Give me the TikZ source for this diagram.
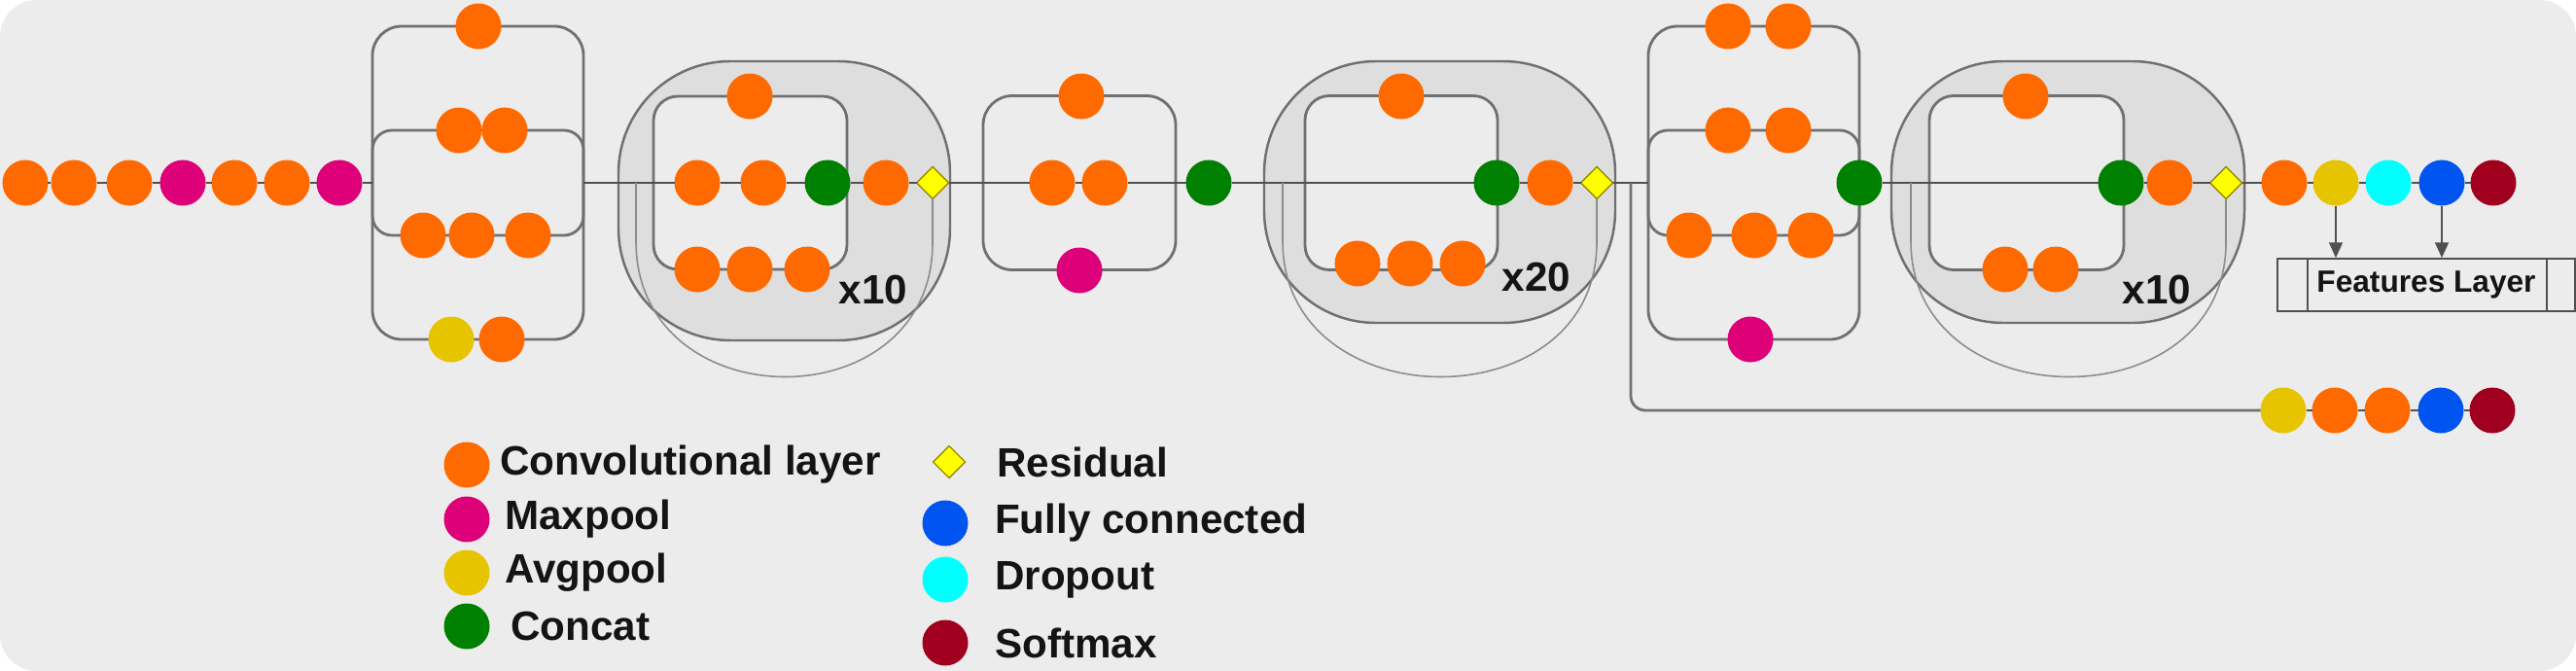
\documentclass[tikz,border=0pt]{standalone}
\usepackage{fontspec}
\setmainfont{Liberation Sans}
\usetikzlibrary{shapes.geometric, arrows.meta, positioning, calc}
\definecolor{bggray}{RGB}{236, 236, 236}
\definecolor{blockgray}{RGB}{222, 222, 222}
\definecolor{boxgray}{RGB}{112, 112, 112}
\definecolor{linegray}{RGB}{80, 80, 80}
\definecolor{resgray}{RGB}{140, 140, 140}
\definecolor{textblack}{RGB}{20, 20, 20}
\definecolor{convorange}{RGB}{255, 106, 0}
\definecolor{maxmagenta}{RGB}{222, 0, 120}
\definecolor{avgyellow}{RGB}{230, 196, 0}
\definecolor{concatgreen}{RGB}{0, 128, 0}
\definecolor{residyellow}{RGB}{255, 255, 0}
\definecolor{residedge}{RGB}{150, 140, 0}
\definecolor{fcblue}{RGB}{0, 85, 240}
\definecolor{dropcyan}{RGB}{0, 255, 255}
\definecolor{softred}{RGB}{160, 0, 30}
\tikzset{
    unitdot/.style={
        circle,
        fill=#1,
        minimum size=0.47cm,
        inner sep=0pt,
        outer sep=0pt,
    },
    resid/.style={
        diamond,
        draw=residedge,
        fill=residyellow,
        line width=0.4pt,
        minimum width=0.33cm,
        minimum height=0.33cm,
        inner sep=0pt,
        outer sep=0pt,
    },
    branchbox/.style={
        draw=boxgray,
        line width=0.8pt,
        rounded corners=0.3cm,
        inner sep=0pt,
        outer sep=0pt,
    },
    repeatbox/.style={
        draw=boxgray,
        fill=blockgray,
        line width=0.7pt,
        rounded corners=1.15cm,
        inner sep=0pt,
        outer sep=0pt,
    },
    innerbox/.style={
        draw=boxgray,
        fill=bggray,
        line width=0.8pt,
        rounded corners=0.25cm,
        inner sep=0pt,
        outer sep=0pt,
    },
    trunk/.style={
        draw=linegray,
        line width=0.55pt,
    },
    resline/.style={
        draw=resgray,
        line width=0.45pt,
    },
    auxline/.style={
        draw=boxgray,
        line width=0.8pt,
        rounded corners=0.15cm,
    },
    featarrow/.style={
        -{Triangle[width=4pt, length=4.5pt]},
        draw=linegray,
        line width=0.4pt,
    },
    countlabel/.style={
        font=\fontsize{12}{14}\selectfont\bfseries,
        text=textblack,
        inner sep=0pt,
    },
    legtext/.style={
        font=\fontsize{12}{14}\selectfont\bfseries,
        text=textblack,
        inner sep=0pt,
    },
}
\begin{document}
\begin{tikzpicture}

% ===== background =====
\useasboundingbox (0,0) rectangle (26.49,-6.90);
\fill[white] (0,0) rectangle (26.49,-6.90);
\fill[bggray, rounded corners=0.38cm] (0,0) rectangle (26.49,-6.90);

% ===== stem =====
\node[unitdot=convorange] (c1) at (0.26,-1.88) {};
\node[unitdot=convorange] (c2) at (0.76,-1.88) {};
\node[unitdot=convorange] (c3) at (1.33,-1.88) {};
\node[unitdot=maxmagenta] (c4) at (1.88,-1.88) {};
\node[unitdot=convorange] (c5) at (2.41,-1.88) {};
\node[unitdot=convorange] (c6) at (2.95,-1.88) {};
\node[unitdot=maxmagenta] (c7) at (3.49,-1.88) {};

% ===== inception A =====
\node[branchbox, minimum width=2.17cm, minimum height=3.22cm] (incA) at (4.915,-1.88) {};
\node[branchbox, rounded corners=0.2cm, minimum width=2.17cm, minimum height=1.08cm] (incAin) at (4.915,-1.88) {};
\node[unitdot=convorange] (a1) at (4.92,-0.27) {};
\node[unitdot=convorange] (a2) at (4.72,-1.34) {};
\node[unitdot=convorange] (a3) at (5.19,-1.34) {};
\node[unitdot=convorange] (a4) at (4.35,-2.42) {};
\node[unitdot=convorange] (a5) at (4.85,-2.42) {};
\node[unitdot=convorange] (a6) at (5.43,-2.42) {};
\node[unitdot=avgyellow] (a7) at (4.64,-3.49) {};
\node[unitdot=convorange] (a8) at (5.16,-3.49) {};

% ===== repeat A (x10) =====
\node[repeatbox, minimum width=3.41cm, minimum height=2.87cm] (repA) at (8.065,-2.065) {};
\node[innerbox, minimum width=1.99cm, minimum height=1.78cm] (repAin) at (7.715,-1.88) {};
\node[unitdot=convorange] (b1) at (7.71,-0.99) {};
\node[unitdot=convorange] (b2) at (7.17,-1.88) {};
\node[unitdot=convorange] (b3) at (7.85,-1.88) {};
\node[unitdot=concatgreen] (g1) at (8.51,-1.88) {};
\node[unitdot=convorange] (b4) at (9.11,-1.88) {};
\node[resid] (res1) at (9.59,-1.88) {};
\node[unitdot=convorange] (b5) at (7.17,-2.77) {};
\node[unitdot=convorange] (b6) at (7.71,-2.77) {};
\node[unitdot=convorange] (b7) at (8.30,-2.77) {};
\coordinate (rsA) at (6.54,-1.88);
\node[countlabel] (cntA) at (8.98,-2.98) {x10};

% ===== reduction block =====
\node[branchbox, minimum width=1.98cm, minimum height=1.79cm] (midbox) at (11.10,-1.88) {};
\node[unitdot=convorange] (d1) at (11.12,-0.99) {};
\node[unitdot=convorange] (d2) at (10.82,-1.88) {};
\node[unitdot=convorange] (d3) at (11.36,-1.88) {};
\node[unitdot=maxmagenta] (d4) at (11.10,-2.78) {};
\node[unitdot=concatgreen] (g2) at (12.43,-1.88) {};

% ===== repeat B (x20) =====
\node[repeatbox, minimum width=3.61cm, minimum height=2.69cm] (repB) at (14.805,-1.975) {};
\node[innerbox, minimum width=1.98cm, minimum height=1.79cm] (repBin) at (14.41,-1.88) {};
\node[unitdot=convorange] (e1) at (14.41,-0.99) {};
\node[unitdot=convorange] (e2) at (13.96,-2.71) {};
\node[unitdot=convorange] (e3) at (14.50,-2.71) {};
\node[unitdot=convorange] (e4) at (15.04,-2.71) {};
\node[unitdot=concatgreen] (g3) at (15.39,-1.88) {};
\node[unitdot=convorange] (e5) at (15.94,-1.88) {};
\node[resid] (res2) at (16.42,-1.88) {};
\coordinate (rsB) at (13.19,-1.88);
\coordinate (auxA) at (16.77,-1.88);
\node[countlabel] (cntB) at (15.80,-2.85) {x20};

% ===== inception B =====
\node[branchbox, minimum width=2.17cm, minimum height=3.22cm] (incB) at (18.035,-1.88) {};
\node[branchbox, rounded corners=0.2cm, minimum width=2.17cm, minimum height=1.08cm] (incBin) at (18.035,-1.88) {};
\node[unitdot=convorange] (f1) at (17.77,-0.27) {};
\node[unitdot=convorange] (f2) at (18.39,-0.27) {};
\node[unitdot=convorange] (f3) at (17.77,-1.34) {};
\node[unitdot=convorange] (f4) at (18.39,-1.34) {};
\node[unitdot=convorange] (f5) at (17.37,-2.42) {};
\node[unitdot=convorange] (f6) at (18.04,-2.42) {};
\node[unitdot=convorange] (f7) at (18.62,-2.42) {};
\node[unitdot=maxmagenta] (f8) at (18.00,-3.49) {};
\node[unitdot=concatgreen] (g4) at (19.12,-1.88) {};

% ===== repeat C (x10) =====
\node[repeatbox, minimum width=3.63cm, minimum height=2.69cm] (repC) at (21.265,-1.975) {};
\node[innerbox, minimum width=2.00cm, minimum height=1.79cm] (repCin) at (20.84,-1.88) {};
\node[unitdot=convorange] (h1) at (20.83,-0.99) {};
\node[unitdot=convorange] (h2) at (20.62,-2.77) {};
\node[unitdot=convorange] (h3) at (21.14,-2.77) {};
\node[unitdot=concatgreen] (g5) at (21.81,-1.88) {};
\node[unitdot=convorange] (h4) at (22.31,-1.88) {};
\node[resid] (res3) at (22.89,-1.88) {};
\coordinate (rsC) at (19.65,-1.88);
\node[countlabel] (cntC) at (22.18,-2.98) {x10};

% ===== head =====
\node[unitdot=convorange] (t1) at (23.49,-1.88) {};
\node[unitdot=avgyellow] (t2) at (24.02,-1.88) {};
\node[unitdot=dropcyan] (t3) at (24.56,-1.88) {};
\node[unitdot=fcblue] (t4) at (25.11,-1.88) {};
\node[unitdot=softred] (t5) at (25.64,-1.88) {};

\node[draw=linegray, line width=0.5pt, minimum width=3.06cm, minimum height=0.54cm, inner sep=0pt, font=\fontsize{9}{11}\selectfont\bfseries, text=textblack] (feat) at (24.95,-2.93) {Features Layer};
\draw[draw=linegray, line width=0.5pt] ($(feat.north west)+(0.32,0)$) -- ($(feat.south west)+(0.32,0)$);
\draw[draw=linegray, line width=0.5pt] ($(feat.north east)+(-0.30,0)$) -- ($(feat.south east)+(-0.30,0)$);

% ===== auxiliary head =====
\node[unitdot=avgyellow] (u1) at (23.48,-4.22) {};
\node[unitdot=convorange] (u2) at (24.01,-4.22) {};
\node[unitdot=convorange] (u3) at (24.55,-4.22) {};
\node[unitdot=fcblue] (u4) at (25.10,-4.22) {};
\node[unitdot=softred] (u5) at (25.63,-4.22) {};

% ===== connections =====
\draw[trunk] (c1) -- (c2) -- (c3) -- (c4) -- (c5) -- (c6) -- (c7) -- (incA.west);
\draw[trunk] (incA.east) -- (b2) -- (b3) -- (g1) -- (b4) -- (res1) -- (midbox.west);
\draw[trunk] (midbox.west) -- (d2) -- (d3) -- (midbox.east) -- (g2) -- (g3) -- (e5) -- (res2) -- (incB.west);
\draw[trunk] (g4) -- (g5) -- (h4) -- (res3) -- (t1) -- (t2) -- (t3) -- (t4) -- (t5);
\draw[trunk] (u1) -- (u2) -- (u3) -- (u4) -- (u5);
\draw[auxline] (auxA) |- (u1);

% residual loops
\draw[resline] (rsA) -- ++(0,-0.6) .. controls +(0,-1.85) and +(0,-1.85) .. ($(res1.south)+(0,-0.45)$) -- (res1.south);
\draw[resline] (rsB) -- ++(0,-0.6) .. controls +(0,-1.85) and +(0,-1.85) .. ($(res2.south)+(0,-0.45)$) -- (res2.south);
\draw[resline] (rsC) -- ++(0,-0.6) .. controls +(0,-1.85) and +(0,-1.85) .. ($(res3.south)+(0,-0.45)$) -- (res3.south);

% feature taps
\draw[featarrow] (t2) -- (t2 |- feat.north);
\draw[featarrow] (t4) -- (t4 |- feat.north);

% ===== legend =====
\node[unitdot=convorange] (leg1) at (4.80,-4.78) {};
\node[legtext, right=0.1cm of leg1] (lt1) {Convolutional layer};
\node[unitdot=maxmagenta] (leg2) at (4.80,-5.34) {};
\node[legtext, right=0.15cm of leg2] (lt2) {Maxpool};
\node[unitdot=avgyellow] (leg3) at (4.80,-5.89) {};
\node[legtext, right=0.15cm of leg3] (lt3) {Avgpool};
\node[unitdot=concatgreen] (leg4) at (4.80,-6.44) {};
\node[legtext, right=0.21cm of leg4] (lt4) {Concat};

\node[resid] (leg5) at (9.76,-4.75) {};
\node[legtext, right=0.32cm of leg5] (lt5) {Residual};
\node[unitdot=fcblue] (leg6) at (9.72,-5.38) {};
\node[legtext, right=0.27cm of leg6] (lt6) {Fully connected};
\node[unitdot=dropcyan] (leg7) at (9.72,-5.96) {};
\node[legtext, right=0.27cm of leg7] (lt7) {Dropout};
\node[unitdot=softred] (leg8) at (9.72,-6.61) {};
\node[legtext, right=0.27cm of leg8] (lt8) {Softmax};

\end{tikzpicture}
\end{document}
